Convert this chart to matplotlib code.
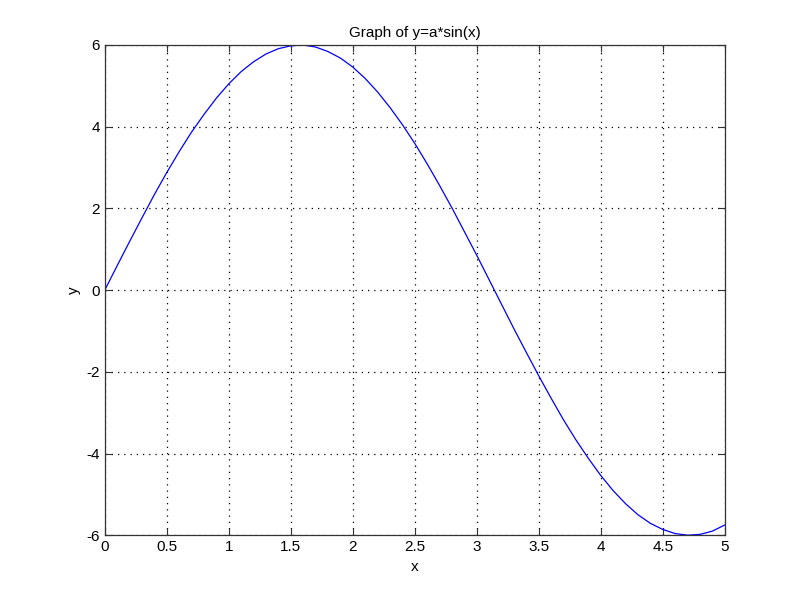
import matplotlib
matplotlib.use("Agg")
import matplotlib.pyplot as plt

# values
x_vals = [0.0, 0.1, 0.2, 0.3, 0.4, 0.5, 0.6, 0.7, 0.8, 0.9,
          1.0, 1.1, 1.2, 1.3, 1.4, 1.5, 1.6, 1.7, 1.8, 1.9,
          2.0, 2.1, 2.2, 2.3, 2.4, 2.5, 2.6, 2.7, 2.8, 2.9,
          3.0, 3.1, 3.2, 3.3, 3.4, 3.5, 3.6, 3.7, 3.8, 3.9,
          4.0, 4.1, 4.2, 4.3, 4.4, 4.5, 4.6, 4.7, 4.8, 4.9, 5.0]
y_vals = [0.0, 0.60, 1.19, 1.77, 2.34, 2.88, 3.39, 3.87, 4.30, 4.70,
          5.05, 5.35, 5.59, 5.78, 5.91, 5.98, 6.00, 5.95, 5.84, 5.68,
          5.46, 5.18, 4.85, 4.47, 4.05, 3.59, 3.09, 2.56, 2.01, 1.43,
          0.85, 0.25, -0.35, -0.95, -1.53, -2.10, -2.65, -3.18, -3.67, -4.12,
          -4.54, -4.91, -5.23, -5.50, -5.71, -5.86, -5.96, -6.00, -5.98, -5.90,
          -5.75]

x_ticks = [0, 0.5, 1, 1.5, 2, 2.5, 3, 3.5, 4, 4.5, 5]
x_labels = ["0", "0.5", "1", "1.5", "2", "2.5", "3", "3.5", "4", "4.5", "5"]
y_ticks = [-6, -4, -2, 0, 2, 4, 6]

plt.rcParams['font.family'] = ['Liberation Sans', 'DejaVu Sans']
plt.rcParams['axes.unicode_minus'] = False

fig = plt.figure(figsize=(8, 6), dpi=100)
ax = fig.add_axes([0.131, 0.108, 0.775, 0.817])

ax.plot(x_vals, y_vals, color='#0000ff', linewidth=0.9)

ax.set_xlim(0, 5)
ax.set_ylim(-6, 6)
ax.set_xticks(x_ticks)
ax.set_xticklabels(x_labels)
ax.set_yticks(y_ticks)
ax.tick_params(direction='in', labelsize=11, length=5, top=True, right=True,
               color='#333333')
ax.grid(True, linestyle=(0, (1, 4)), color='black', linewidth=0.9)

ax.set_title("Graph of y=a*sin(x)", fontsize=11)
ax.set_xlabel("x", fontsize=11)
ax.set_ylabel("y", fontsize=11)

for s in ax.spines.values():
    s.set_linewidth(0.9)
    s.set_color('#333333')

fig.savefig("out.png", dpi=100)
